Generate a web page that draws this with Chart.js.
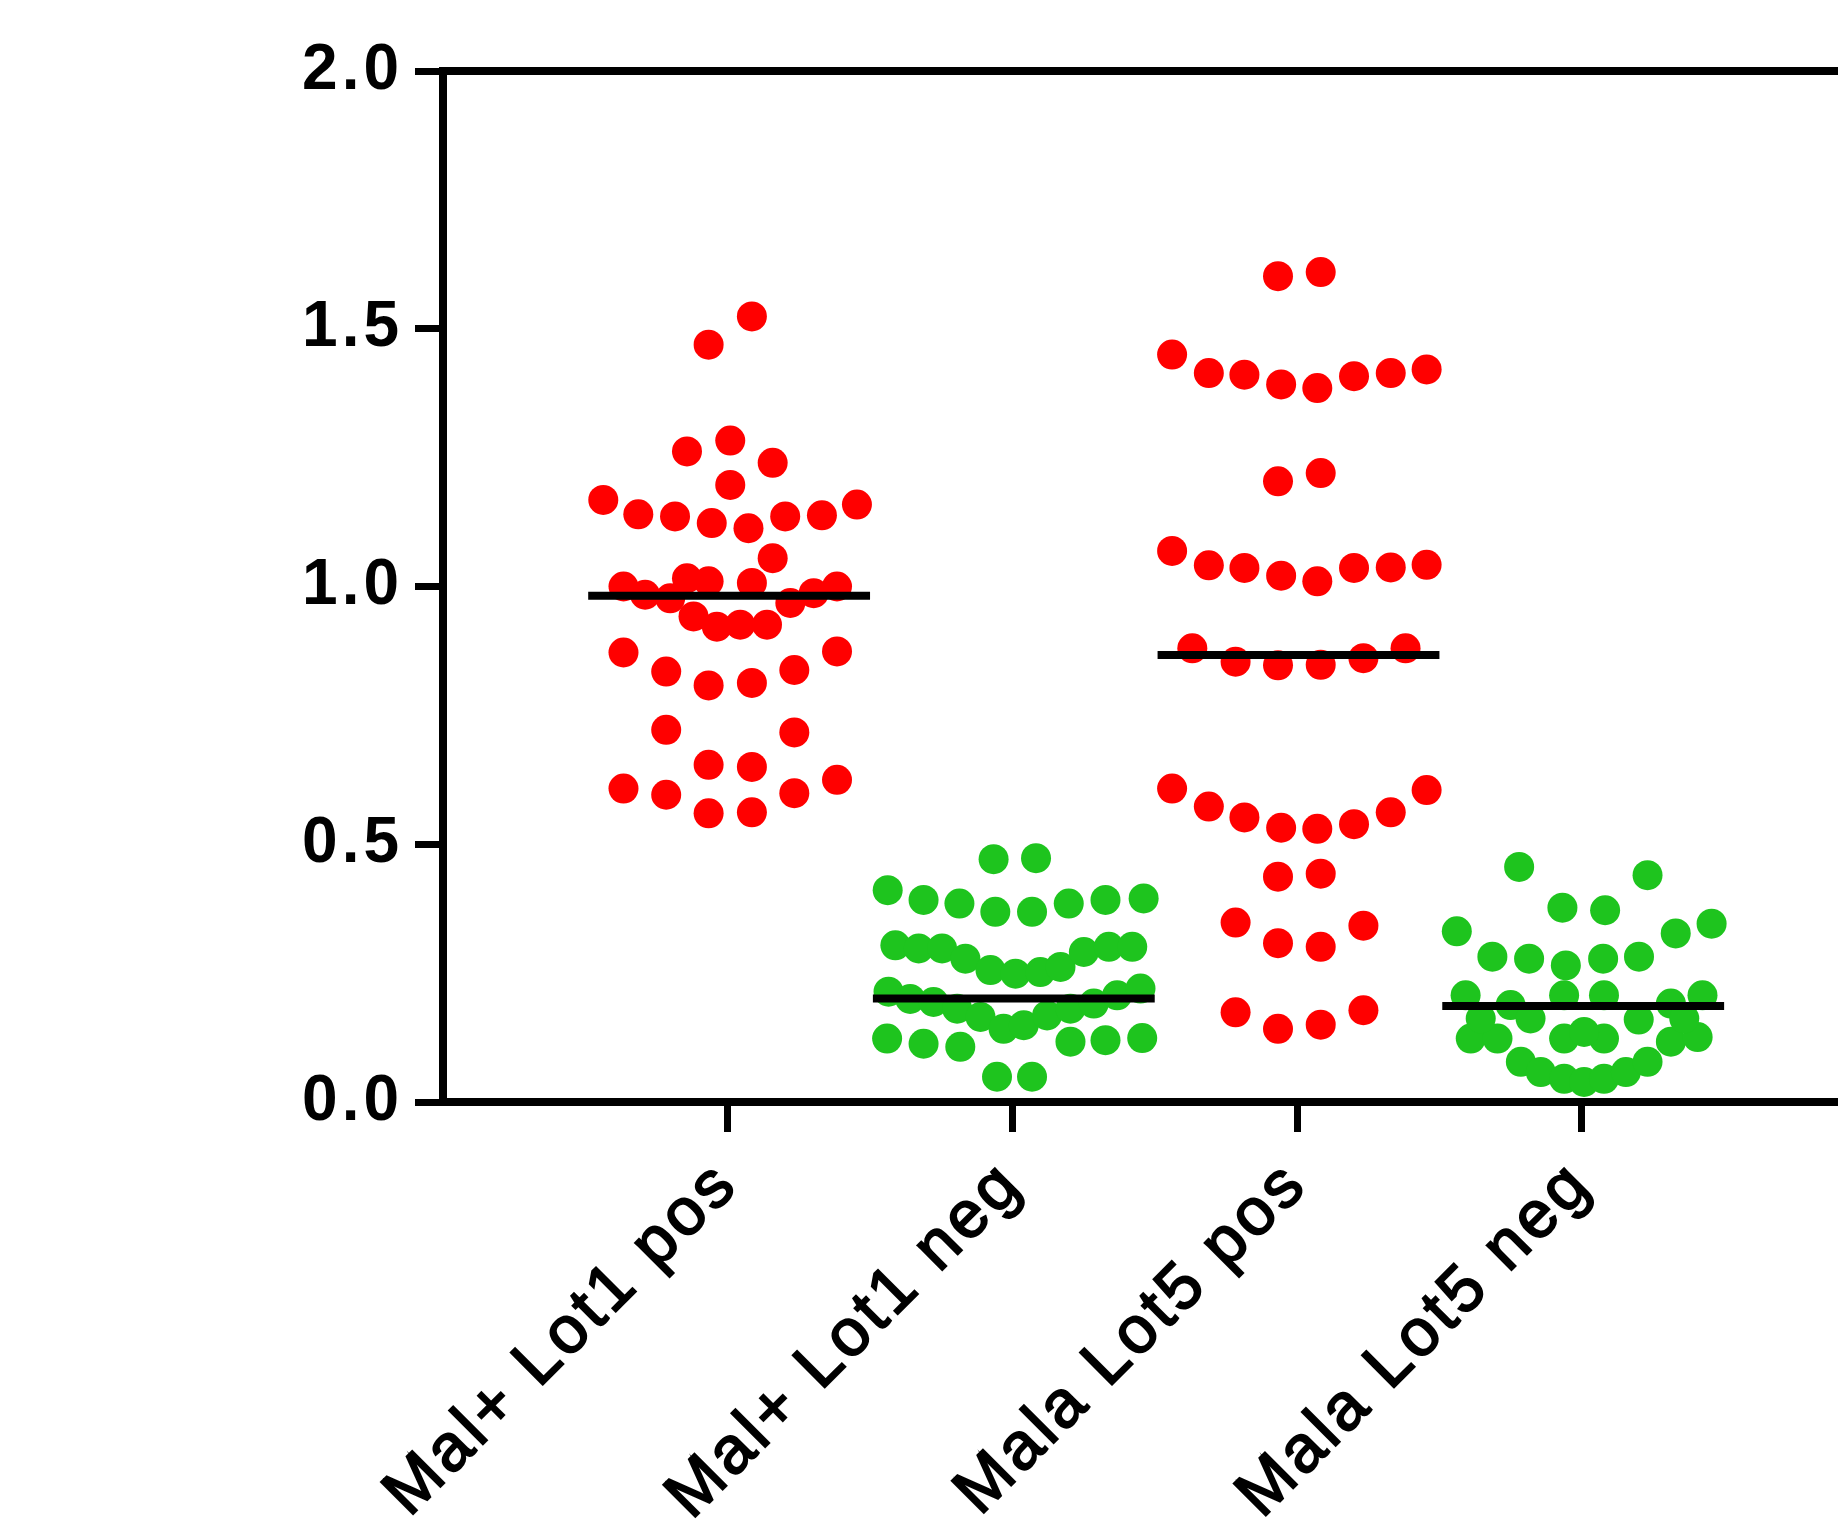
<!DOCTYPE html>
<html>
<head>
<meta charset="utf-8">
<script src="https://cdn.jsdelivr.net/npm/chart.js@4/dist/chart.umd.min.js"></script>
<style>
  body { margin: 0; background: #fff; overflow: hidden; }
  canvas { display: block; }
</style>
</head>
<body>
<canvas id="dotChart" width="1838" height="1533"></canvas>
<script>
const categories = ["Mal+ Lot1 pos", "Mal+ Lot1 neg", "Mala Lot5 pos", "Mala Lot5 neg"];
const yTicks = [0, 0.5, 1.0, 1.5, 2.0];

// values; spread = sideways scatter of each dot (category units)
const lot1PosValues = [1.524, 1.469, 1.262, 1.283, 1.240, 1.197, 1.168, 1.140, 1.136, 1.123, 1.113, 1.136, 1.138, 1.159, 1.055,
  1.000, 0.984, 0.977, 1.016, 1.010, 1.007, 0.968, 0.987, 1.000, 0.942, 0.922, 0.926, 0.926,
  0.872, 0.835, 0.808, 0.813, 0.838, 0.874, 0.722, 0.717, 0.654, 0.650, 0.608, 0.596, 0.560, 0.562, 0.599, 0.625];
const lot1PosSpread = [0.085, -0.067, -0.143, 0.009, 0.158, 0.009, -0.437, -0.314, -0.185, -0.056, 0.073, 0.202, 0.331, 0.454, 0.158,
  -0.366, -0.290, -0.202, -0.143, -0.067, 0.085, 0.220, 0.302, 0.384, -0.120, -0.038, 0.044, 0.138,
  -0.366, -0.216, -0.067, 0.085, 0.234, 0.384, -0.216, 0.234, -0.067, 0.085, -0.366, -0.216, -0.067, 0.085, 0.234, 0.384];

const lot1NegValues = [0.471, 0.473, 0.411, 0.392, 0.385, 0.369, 0.369, 0.385, 0.392, 0.395,
  0.304, 0.298, 0.298, 0.278, 0.256, 0.249, 0.252, 0.262, 0.291, 0.301, 0.301,
  0.214, 0.200, 0.194, 0.181, 0.165, 0.142, 0.149, 0.168, 0.181, 0.191, 0.207, 0.220,
  0.123, 0.113, 0.107, 0.117, 0.120, 0.124, 0.049, 0.049];
const lot1NegSpread = [-0.066, 0.083, -0.438, -0.312, -0.186, -0.060, 0.069, 0.198, 0.327, 0.461,
  -0.411, -0.329, -0.247, -0.165, -0.077, 0.011, 0.098, 0.169, 0.251, 0.339, 0.421,
  -0.435, -0.359, -0.277, -0.194, -0.112, -0.031, 0.040, 0.122, 0.204, 0.286, 0.368, 0.450,
  -0.440, -0.312, -0.183, 0.204, 0.327, 0.456, -0.054, 0.069];

const lot5PosValues = [1.602, 1.610, 1.450, 1.414, 1.411, 1.392, 1.385, 1.408, 1.414, 1.421, 1.204, 1.220,
  1.069, 1.041, 1.036, 1.021, 1.010, 1.036, 1.037, 1.042, 0.880, 0.854, 0.847, 0.848, 0.861, 0.880,
  0.608, 0.573, 0.552, 0.532, 0.530, 0.539, 0.562, 0.605, 0.437, 0.443,
  0.348, 0.308, 0.301, 0.342, 0.174, 0.142, 0.150, 0.178];
const lot5PosSpread = [-0.067, 0.083, -0.439, -0.310, -0.185, -0.056, 0.071, 0.200, 0.329, 0.455, -0.067, 0.083,
  -0.439, -0.310, -0.185, -0.056, 0.071, 0.200, 0.329, 0.455, -0.368, -0.216, -0.067, 0.083, 0.233, 0.381,
  -0.439, -0.310, -0.185, -0.056, 0.071, 0.200, 0.329, 0.455, -0.067, 0.083,
  -0.216, -0.067, 0.083, 0.233, -0.216, -0.067, 0.083, 0.233];

const lot5NegValues = [0.456, 0.440, 0.377, 0.372, 0.331, 0.327, 0.346, 0.282, 0.278, 0.265, 0.278, 0.282,
  0.207, 0.207, 0.207, 0.207, 0.188, 0.191,
  0.123, 0.123, 0.078, 0.058, 0.045, 0.039, 0.045, 0.058, 0.078, 0.117, 0.126, 0.123, 0.123,
  0.162, 0.162, 0.160, 0.162, 0.136];
const lot5NegSpread = [-0.220, 0.231, -0.068, 0.082, -0.439, 0.330, 0.456, -0.314, -0.185, -0.056, 0.075, 0.201,
  -0.408, -0.062, 0.078, 0.424, -0.250, 0.313,
  -0.390, -0.296, -0.214, -0.144, -0.062, 0.008, 0.078, 0.155, 0.231, 0.313, 0.407, -0.062, 0.078,
  -0.355, -0.180, 0.200, 0.360, 0.008];

const medians = [0.982, 0.201, 0.867, 0.186];

const RED = "#ff0000";
const GREEN = "#1ec41e";
const FONT = "'Liberation Sans', Arial, Helvetica, sans-serif";

function dots(pos, values, spread) {
  return values.map((v, i) => ({ x: pos + spread[i], y: v }));
}

const groups = [
  { values: lot1PosValues, spread: lot1PosSpread, color: RED },
  { values: lot1NegValues, spread: lot1NegSpread, color: GREEN },
  { values: lot5PosValues, spread: lot5PosSpread, color: RED },
  { values: lot5NegValues, spread: lot5NegSpread, color: GREEN }
];

const datasets = [];
groups.forEach((g, i) => {
  datasets.push({
    type: "scatter",
    label: categories[i],
    data: dots(i + 1, g.values, g.spread),
    backgroundColor: g.color,
    borderWidth: 0,
    pointRadius: 15,
    order: 2
  });
});
// median bars
medians.forEach((m, i) => {
  datasets.push({
    type: "line",
    label: categories[i] + " median",
    data: [{ x: i + 1 - 0.49, y: m }, { x: i + 1 + 0.5, y: m }],
    borderColor: "#000",
    borderWidth: 8,
    pointRadius: 0,
    fill: false,
    order: 0
  });
});

// the original lettering is set a little wide
const wideText = {
  id: "wideText",
  beforeDraw(chart) { chart.ctx.letterSpacing = "4px"; }
};

const ctx = document.getElementById("dotChart").getContext("2d");
new Chart(ctx, {
  type: "scatter",
  data: { datasets },
  plugins: [wideText],
  options: {
    responsive: false,
    animation: false,
    layout: { autoPadding: false, padding: { top: 71, right: 0, bottom: 0, left: 0 } },
    plugins: { legend: { display: false }, tooltip: { enabled: false } },
    scales: {
      x: {
        type: "linear",
        position: "bottom",
        min: 0,
        max: 4.9,
        afterBuildTicks: (scale) => { scale.ticks = categories.map((c, i) => ({ value: i + 1 })); },
        afterFit: (scale) => { scale.height = 431; },
        ticks: {
          autoSkip: false,
          minRotation: 45,
          maxRotation: 45,
          padding: 14,
          color: "#000",
          textStrokeColor: "#000",
          textStrokeWidth: 2,
          font: { family: FONT, size: 66, weight: "normal" },
          callback: (v) => categories[Math.round(v) - 1]
        },
        grid: { drawOnChartArea: false, drawTicks: true, tickLength: 30, tickWidth: 7, tickColor: "#000" },
        border: { display: true, color: "#000", width: 8 }
      },
      xTop: {
        type: "linear",
        position: "top",
        min: 0,
        max: 4.9,
        afterFit: (scale) => { scale.height = 0; },
        ticks: { display: false },
        grid: { display: false },
        border: { display: true, color: "#000", width: 8 }
      },
      y: {
        min: 0,
        max: 2,
        afterBuildTicks: (scale) => { scale.ticks = yTicks.map((v) => ({ value: v })); },
        afterFit: (scale) => { scale.width = 443; },
        ticks: {
          padding: 12,
          color: "#000",
          font: { family: FONT, size: 64, weight: "bold" },
          callback: (v) => v.toFixed(1)
        },
        grid: { drawOnChartArea: false, drawTicks: true, tickLength: 28, tickWidth: 7, tickColor: "#000" },
        border: { display: true, color: "#000", width: 8 }
      }
    }
  }
});
</script>
</body>
</html>
